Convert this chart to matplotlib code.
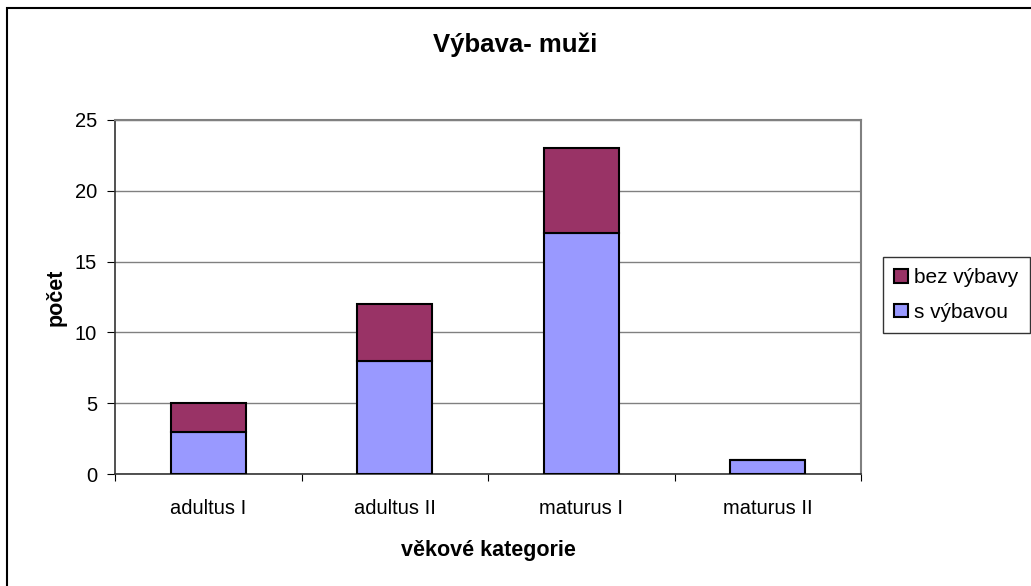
import numpy as np
import matplotlib.pyplot as plt
from matplotlib.patches import Rectangle

plt.rcParams['font.family'] = ['Liberation Sans', 'DejaVu Sans']

# data
categories = ["adultus I", "adultus II", "maturus I", "maturus II"]
s_vybavou = [3, 8, 17, 1]
bez_vybavy = [2, 4, 6, 0]

fig = plt.figure(figsize=(10.31, 5.86), dpi=100)
ax = fig.add_axes([115/1031, 112/586, 746/1031, 354/586])

# outer chart border
fig.patches.append(Rectangle((7/1031, -0.05), 1.1, (586-8)/586 + 0.05,
                             transform=fig.transFigure, fill=False,
                             edgecolor="black", linewidth=1.5))

x = np.arange(len(categories))
w = 0.4
ax.bar(x, s_vybavou, w, color="#9999FF", edgecolor="black", linewidth=1.5,
       label="s výbavou", zorder=3)
ax.bar(x, bez_vybavy, w, bottom=s_vybavou, color="#993366", edgecolor="black",
       linewidth=1.5, label="bez výbavy", zorder=3)

ax.set_xlim(-0.5, len(categories) - 0.5)
ax.set_ylim(0, 25)
ax.set_yticks(np.arange(0, 26, 5))
ax.yaxis.grid(True, color="#808080", linewidth=1, zorder=0)

ax.set_xticks(np.arange(-0.5, len(categories), 1))
ax.set_xticklabels([])
ax.set_xticks(x, minor=True)
ax.set_xticklabels(categories, minor=True, fontsize=14.5)
ax.tick_params(axis="x", which="minor", length=0, pad=18)
ax.tick_params(axis="x", which="major", length=5, direction="out", color="black")
ax.tick_params(axis="y", length=6, direction="out", labelsize=14.5, pad=7)

for side in ["top", "right"]:
    ax.spines[side].set_color("#808080")
    ax.spines[side].set_linewidth(1.5)
ax.spines["left"].set_color("#333333")
ax.spines["bottom"].set_color("#333333")
ax.spines["left"].set_linewidth(1.2)
ax.spines["bottom"].set_linewidth(1.2)

ax.set_xlabel("věkové kategorie", fontsize=15.5, fontweight="bold", labelpad=16)
ax.set_ylabel("počet", fontsize=15.5, fontweight="bold", labelpad=6)
fig.suptitle("Výbava- muži", x=0.5, y=1 - 45/586, va="center",
             fontsize=18.5, fontweight="bold")

handles, labels = ax.get_legend_handles_labels()
leg = fig.legend(handles[::-1], labels[::-1], loc="center left",
                 bbox_to_anchor=(883/1031, 1 - 295/586), fontsize=15,
                 frameon=True, fancybox=False, edgecolor="black",
                 handlelength=0.65, handleheight=0.65, handletextpad=0.3,
                 borderpad=0.55, labelspacing=0.75, borderaxespad=0)
leg.get_frame().set_linewidth(1)

fig.savefig("out.png", dpi=100)
